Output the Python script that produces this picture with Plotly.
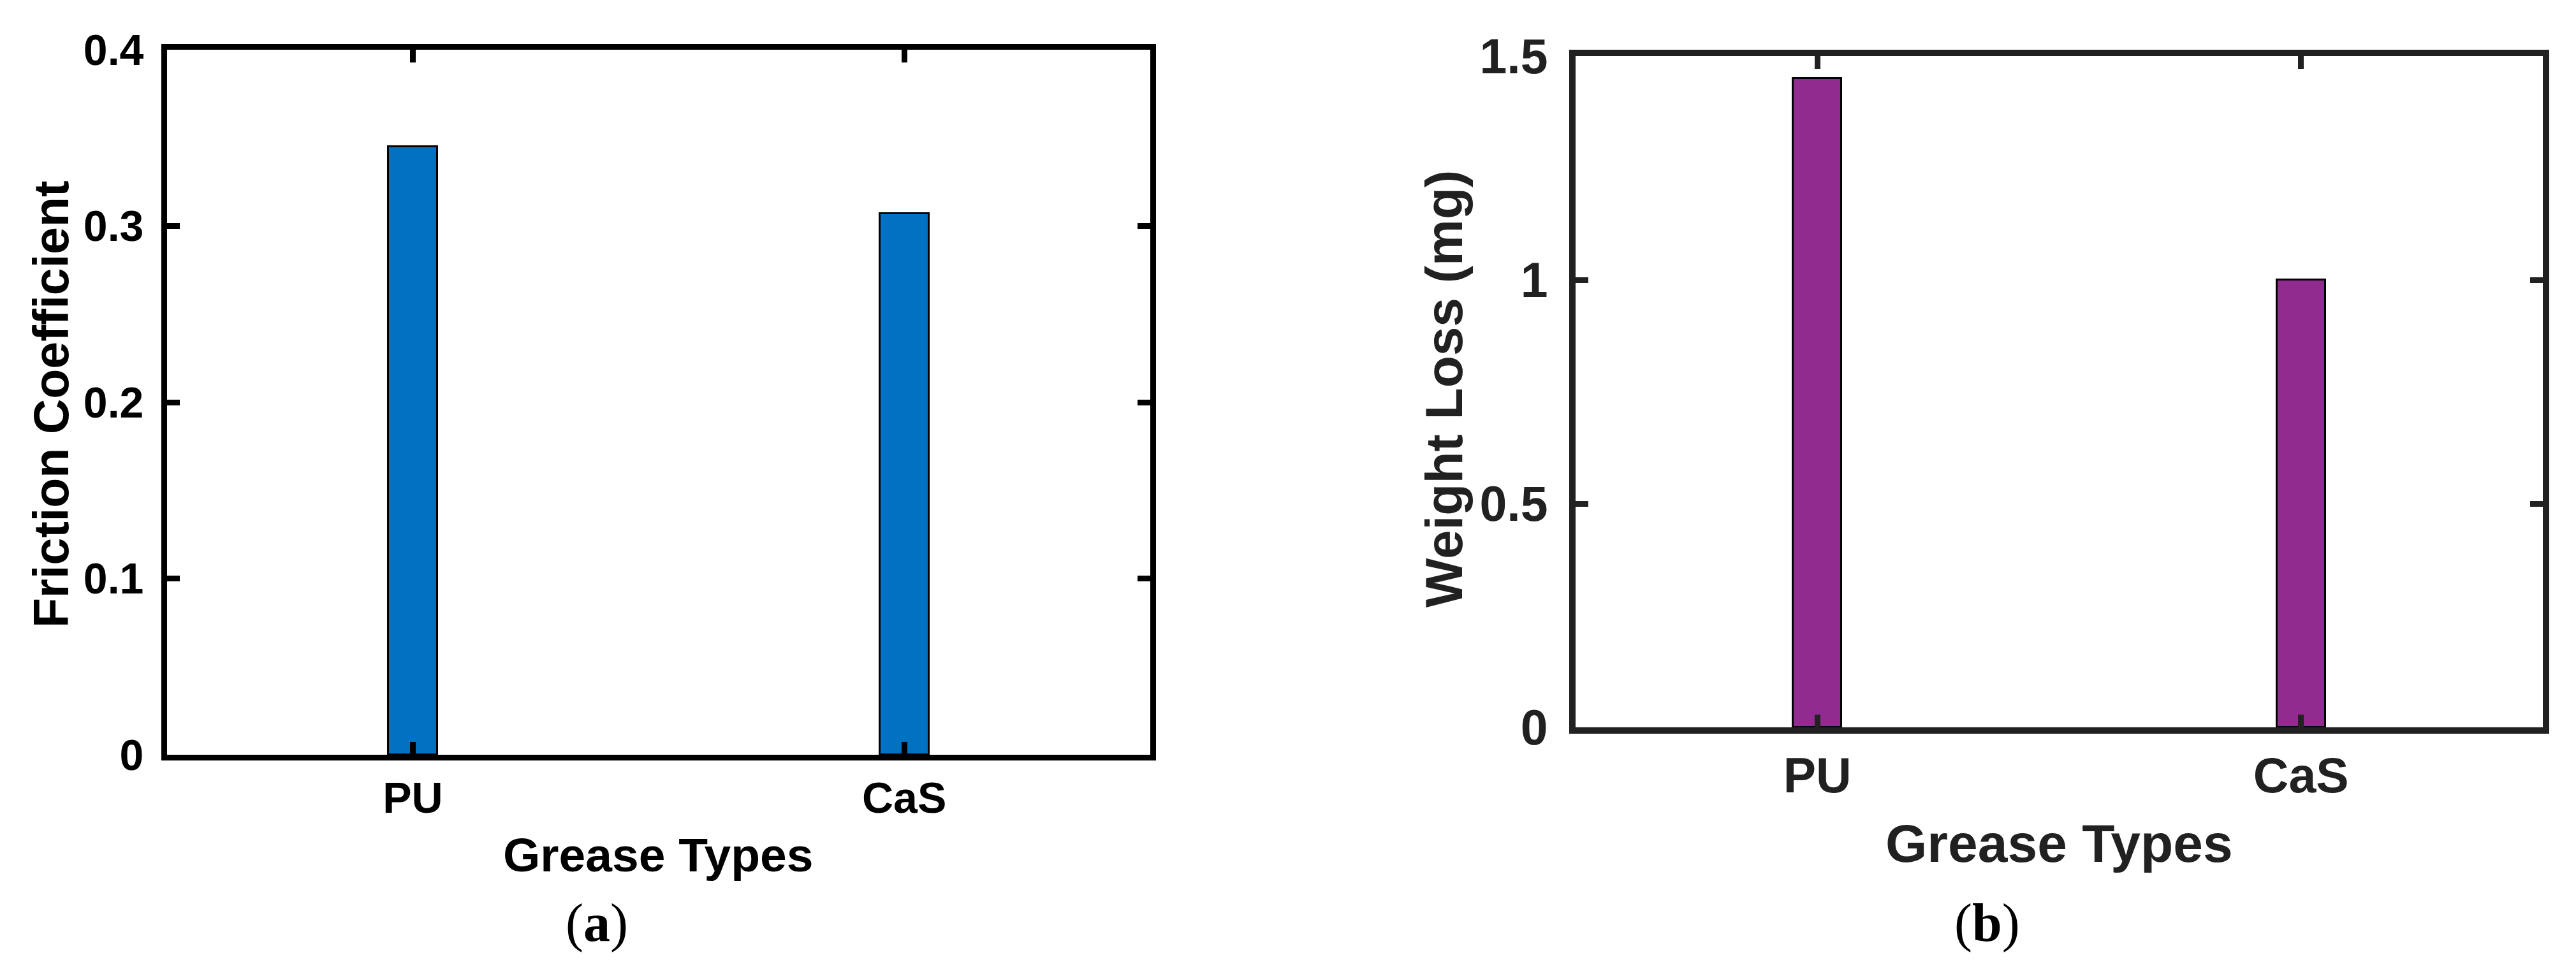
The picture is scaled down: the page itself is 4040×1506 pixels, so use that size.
import plotly.graph_objects as go

categories = ["PU", "CaS"]
friction_coefficient = [0.345, 0.307]
weight_loss_mg = [1.45, 1.0]

left_yticks = [0, 0.1, 0.2, 0.3, 0.4]
left_yticktext = ["0", "0.1", "0.2", "0.3", "0.4"]
right_yticks = [0, 0.5, 1, 1.5]
right_yticktext = ["0", "0.5", "1", "1.5"]

W, H = 4040, 1506
SANS = "Liberation Sans, Arial, sans-serif"
SERIF = "Liberation Serif, Times New Roman, serif"


def px(x):
    return x / W


def py(y):
    return 1 - y / H


fig = go.Figure()
fig.add_trace(go.Bar(x=categories, y=friction_coefficient, width=0.1,
                     marker=dict(color="#0072C1", line=dict(color="#000000", width=3)),
                     xaxis="x", yaxis="y", showlegend=False))
fig.add_trace(go.Bar(x=categories, y=weight_loss_mg, width=0.1,
                     marker=dict(color="#922B8F", line=dict(color="#000000", width=3)),
                     xaxis="x2", yaxis="y2", showlegend=False))


def axis_common(color, lw, fsize):
    return dict(showline=True, linecolor=color, linewidth=lw, mirror="ticks",
                ticks="inside", ticklen=20, tickwidth=9, tickcolor=color,
                showgrid=False, zeroline=False, automargin=False,
                tickfont=dict(family=SANS, size=fsize, color=color, weight="bold"))


fig.update_layout(
    template="none",
    width=W, height=H, autosize=False,
    margin=dict(l=0, r=0, t=0, b=0, pad=0),
    paper_bgcolor="white", plot_bgcolor="white",
    bargap=0,
    xaxis=dict(domain=[px(254), px(1795.5)], anchor="y", type="category",
               range=[-0.5, 1.5], **axis_common("#000000", 9, 68)),
    yaxis=dict(domain=[py(1176), py(70)], anchor="x", range=[0, 0.4],
               tickvals=left_yticks, ticktext=left_yticktext, ticklabelstandoff=14,
               **axis_common("#000000", 9, 68)),
    xaxis2=dict(domain=[px(2463), px(3980)], anchor="y2", type="category",
                range=[-0.5, 1.5], **axis_common("#212121", 10, 77)),
    yaxis2=dict(domain=[py(1133), py(80)], anchor="x2", range=[0, 1.5],
                tickvals=right_yticks, ticktext=right_yticktext, ticklabelstandoff=18,
                **axis_common("#212121", 10, 77)),
)

ann = [
    dict(text="Friction Coefficient", x=px(72), y=py(626), textangle=-90,
         font=dict(family=SANS, size=77, color="#000000", weight="bold")),
    dict(text="Grease Types", x=px(1024), y=py(1333),
         font=dict(family=SANS, size=75, color="#000000", weight="bold")),
    dict(text="(<b>a</b>)", x=px(928), y=py(1440),
         font=dict(family=SERIF, size=84, color="#000000")),
    dict(text="Weight Loss (mg)", x=px(2256), y=py(602), textangle=-90,
         font=dict(family=SANS, size=82, color="#212121", weight="bold")),
    dict(text="Grease Types", x=px(3221), y=py(1315),
         font=dict(family=SANS, size=84, color="#212121", weight="bold")),
    dict(text="(<b>b</b>)", x=px(3108), y=py(1440),
         font=dict(family=SERIF, size=84, color="#000000")),
]
for a in ann:
    a.update(xref="paper", yref="paper", showarrow=False,
             xanchor="center", yanchor="middle")
fig.update_layout(annotations=ann)

fig.write_html("out.html")
